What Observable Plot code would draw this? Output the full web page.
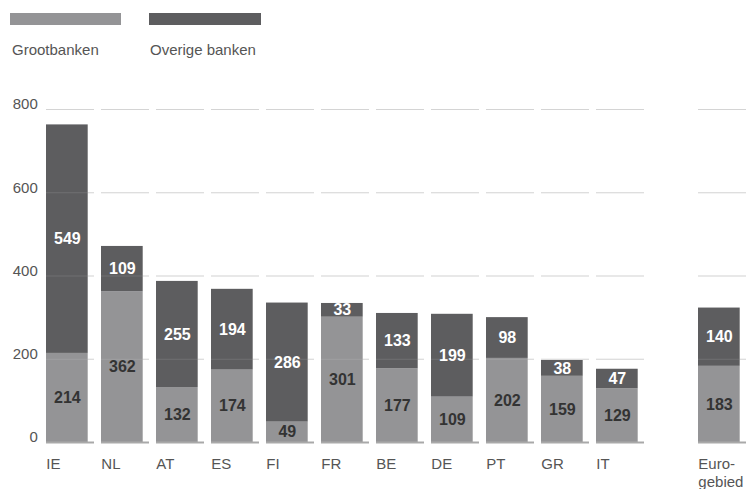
<!DOCTYPE html>
<html>
<head>
<meta charset="utf-8">
<script src="https://cdn.jsdelivr.net/npm/d3@7"></script>
<script src="https://cdn.jsdelivr.net/npm/@observablehq/plot@0.6"></script>
<style>
  body { margin: 0; background: #fff; font-family: "Liberation Sans", Arial, sans-serif; }
  #legend { position: relative; width: 749px; height: 65px; }
  .sw { position: absolute; top: 13px; height: 12px; }
  .lt { position: absolute; top: 41px; font-size: 15px; line-height: 18px; color: #555; }
</style>
</head>
<body>
<div id="legend">
  <div class="sw" style="left:10px;width:111px;background:#949496"></div>
  <div class="sw" style="left:149px;width:112px;background:#5d5d5f"></div>
  <div class="lt" style="left:12px">Grootbanken</div>
  <div class="lt" style="left:150px">Overige banken</div>
</div>
<div id="chart"></div>
<script>
const countries = ["IE","NL","AT","ES","FI","FR","BE","DE","PT","GR","IT","Euro-gebied"];
const xLabels = ["IE","NL","AT","ES","FI","FR","BE","DE","PT","GR","IT","Euro-\ngebied"];
const grootbanken = [214,362,132,174,49,301,177,109,202,159,129,183];
const overigeBanken = [549,109,255,194,286,33,133,199,98,38,47,140];
const yTicks = [0,200,400,600,800];
const gridTicks = [200,400,600,800];

const LIGHT = "#949496", DARK = "#5d5d5f";

const rows = [];
countries.forEach((c, i) => {
  const g = grootbanken[i], o = overigeBanken[i];
  rows.push({country: c, serie: "Grootbanken", y1: 0, y2: g, value: g});
  rows.push({country: c, serie: "Overige banken", y1: g, y2: g + o, value: o});
});
const gridRows = countries.flatMap(c => gridTicks.map(v => ({country: c, v})));
const baseRows = countries.map(c => ({country: c, v: 0}));
const labelRows = countries.map((c, i) => ({country: c, label: xLabels[i]}));

const step = 55.3, left = 44.3;
const domain = [...countries.slice(0, 11), " ", "Euro-gebied"];

function group(filter, dx) {
  const r = rows.filter(d => filter(d.country));
  const gr = gridRows.filter(d => filter(d.country));
  const br = baseRows.filter(d => filter(d.country));
  const lr = labelRows.filter(d => filter(d.country));
  return [
    Plot.tickY(gr, {x: "country", y: "v", stroke: "#cfcfcf", strokeWidth: 1, insetRight: 7, dx}),
    Plot.barY(r, {x: "country", y1: "y1", y2: "y2", fill: d => d.serie === "Grootbanken" ? LIGHT : DARK, insetRight: 13.3, dx}),
    Plot.tickY(gr, {x: "country", y: "v", stroke: "#fff", strokeOpacity: 0.12, strokeWidth: 1, insetRight: 7, dx}),
    Plot.tickY(br, {x: "country", y: "v", stroke: "#a9a9a9", strokeWidth: 2, insetRight: 7, dx}),
    Plot.text(r, {x: "country", y: d => (d.y1 + d.y2) / 2, text: d => String(d.value), dx: dx - 6.65,
      fill: d => d.serie === "Grootbanken" ? "#333" : "#fff", fontWeight: "bold", fontSize: 16}),
    Plot.text(lr, {x: "country", y: () => 0, text: "label", dx: dx - step / 2, dy: 14, textAnchor: "start",
      lineAnchor: "top", lineHeight: 1.2, fontSize: 15, fill: "#555"})
  ];
}

const chart = Plot.plot({
  width: 749,
  height: 424,
  marginTop: 44,
  marginBottom: 47,
  marginLeft: left,
  marginRight: 0,
  style: {fontFamily: "Liberation Sans, Arial, sans-serif", fontSize: "15px", color: "#555", overflow: "visible"},
  x: {type: "band", domain, range: [left, left + 13 * step], padding: 0, axis: null},
  y: {domain: [0, 800], axis: null},
  marks: [
    Plot.axisY(yTicks, {tickSize: 0, tickPadding: 7, dy: -5, fontSize: 15, fill: "#555"}),
    ...group(c => c !== "Euro-gebied", 0),
    ...group(c => c === "Euro-gebied", -8)
  ]
});
document.getElementById("chart").appendChild(chart);
</script>
</body>
</html>
